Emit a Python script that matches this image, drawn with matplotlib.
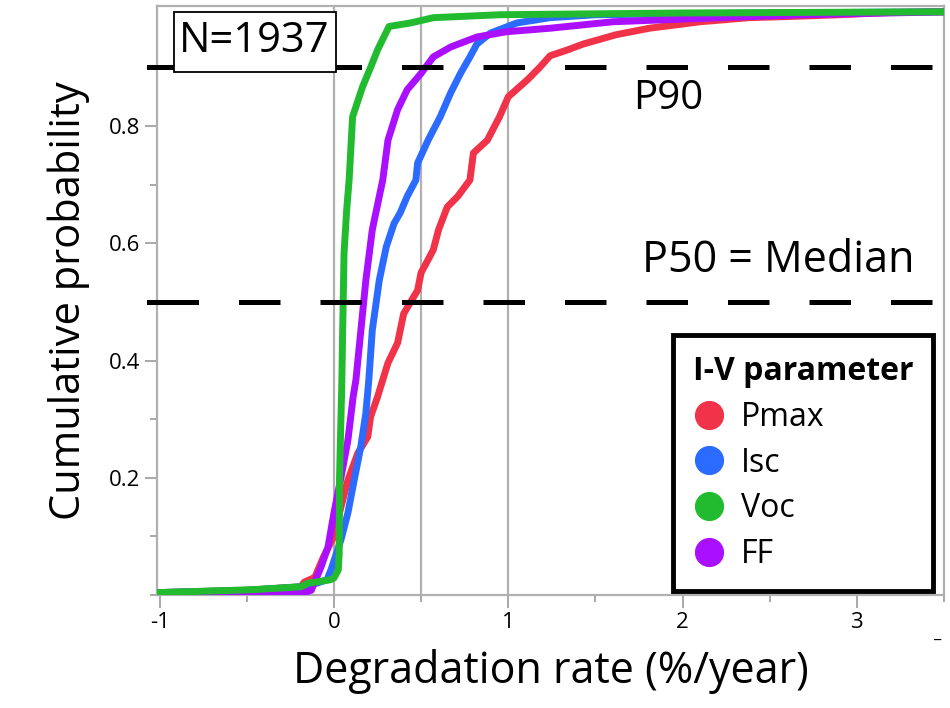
import matplotlib
matplotlib.use("Agg")
import matplotlib.pyplot as plt
from matplotlib.lines import Line2D
from matplotlib.patches import Rectangle
from matplotlib.ticker import FixedLocator

plt.rcParams['font.family'] = ['Open Sans', 'DejaVu Sans']

# cumulative curves (x = degradation rate, y = cumulative probability)
pmax_x = [-1.015, -0.5, -0.19, -0.17, -0.11, -0.06, 0.0, 0.04, 0.08, 0.137, 0.194, 0.21, 0.25, 0.31,
          0.365, 0.4, 0.42, 0.48, 0.5, 0.54, 0.57, 0.6, 0.65, 0.71, 0.78, 0.8, 0.88, 0.95, 1.0, 1.11,
          1.18, 1.24, 1.34, 1.43, 1.62, 1.81, 2.1, 2.38, 2.61, 2.9, 3.2, 3.5]
pmax_y = [0.004, 0.008, 0.014, 0.022, 0.03, 0.065, 0.1, 0.15, 0.196, 0.242, 0.27, 0.304, 0.338, 0.396,
          0.43, 0.48, 0.49, 0.52, 0.55, 0.572, 0.589, 0.623, 0.662, 0.68, 0.708, 0.754, 0.776, 0.816,
          0.85, 0.879, 0.9, 0.92, 0.93, 0.94, 0.956, 0.967, 0.978, 0.985, 0.987, 0.99, 0.994, 0.995]

isc_x = [-1.015, -0.5, -0.19, -0.1, -0.04, -0.017, 0.04, 0.08, 0.116, 0.154, 0.183, 0.2, 0.22, 0.26,
         0.3, 0.345, 0.38, 0.42, 0.47, 0.48, 0.54, 0.61, 0.67, 0.726, 0.78, 0.82, 0.9, 1.05, 1.24, 1.5,
         2.5, 3.5]
isc_y = [0.004, 0.008, 0.014, 0.02, 0.026, 0.043, 0.094, 0.14, 0.196, 0.253, 0.31, 0.367, 0.452, 0.537,
         0.594, 0.634, 0.652, 0.68, 0.708, 0.737, 0.776, 0.816, 0.857, 0.89, 0.918, 0.94, 0.959, 0.976,
         0.985, 0.99, 0.993, 0.995]

voc_x = [-1.015, -0.47, -0.19, -0.15, -0.02, 0.0, 0.025, 0.03, 0.032, 0.04, 0.045, 0.05, 0.058, 0.073,
         0.087, 0.107, 0.164, 0.21, 0.25, 0.316, 0.44, 0.57, 0.95, 2.0, 3.5]
voc_y = [0.004, 0.009, 0.014, 0.02, 0.026, 0.029, 0.043, 0.07, 0.2, 0.3, 0.36, 0.452, 0.584, 0.657,
         0.708, 0.816, 0.867, 0.9, 0.93, 0.97, 0.976, 0.985, 0.99, 0.993, 0.995]

ff_x = [-1.015, -0.5, -0.15, -0.13, -0.074, -0.034, 0.0, 0.04, 0.08, 0.11, 0.126, 0.164, 0.183, 0.22,
        0.26, 0.28, 0.31, 0.365, 0.42, 0.5, 0.57, 0.67, 0.82, 0.99, 1.24, 1.6, 2.3, 2.7, 3.5]
ff_y = [0.003, 0.004, 0.006, 0.008, 0.048, 0.082, 0.14, 0.2, 0.264, 0.338, 0.367, 0.48, 0.537, 0.623,
        0.68, 0.708, 0.776, 0.828, 0.862, 0.89, 0.918, 0.935, 0.952, 0.961, 0.967, 0.978, 0.986, 0.99,
        0.995]

names = ['Pmax', 'Isc', 'Voc', 'FF']
colors = {'Pmax': '#f03348', 'Isc': '#2b6bff', 'Voc': '#22bb30', 'FF': '#aa10ff'}
ref_lines_x = [0, 0.5, 1]
percentiles = [0.9, 0.5]

fig = plt.figure(figsize=(9.5, 7.08), dpi=100)
ax = fig.add_axes([0.1653, 0.1596, 0.8284, 0.832])

for xv in ref_lines_x:
    ax.axvline(xv, color='#b0b0b0', lw=1.6, zorder=1)

ax.plot(pmax_x, pmax_y, color=colors['Pmax'], lw=5, zorder=3)
ax.plot(isc_x, isc_y, color=colors['Isc'], lw=5, zorder=4)
ax.plot(ff_x, ff_y, color=colors['FF'], lw=5, zorder=5)
ax.plot(voc_x, voc_y, color=colors['Voc'], lw=5, zorder=6)

for p in percentiles:
    ax.plot([-1.015, 3.5], [p, p], color='black', lw=3.6, dashes=(8.3, 8.0), zorder=7)
    ax.plot([-1.06, -1.015], [p, p], color='black', lw=3.6, clip_on=False, zorder=7)

ax.set_xlim(-1.015, 3.5)
ax.set_ylim(0, 1.005)

ax.xaxis.set_major_locator(FixedLocator([-1, 0, 1, 2, 3]))
ax.xaxis.set_minor_locator(FixedLocator([-0.5, 0.5, 1.5, 2.5, 3.5]))
ax.yaxis.set_major_locator(FixedLocator([0.2, 0.4, 0.6, 0.8]))
ax.yaxis.set_minor_locator(FixedLocator([0, 0.1, 0.3, 0.5, 0.7, 0.9]))
ax.set_xticklabels(['-1', '0', '1', '2', '3'])
ax.set_yticklabels(['0.2', '0.4', '0.6', '0.8'])
ax.tick_params(which='major', length=9, width=1.4, color='#a8a8a8', labelsize=16, pad=3)
ax.tick_params(which='minor', length=5, width=1.4, color='#a8a8a8')

for s in ax.spines.values():
    s.set_color('#b0b0b0')
    s.set_linewidth(1.6)

ax.set_xlabel('Degradation rate (%/year)', fontsize=31, labelpad=12)
ax.set_ylabel('Cumulative probability', fontsize=30, labelpad=14)

# boxed sample size
ax.add_patch(Rectangle((-0.918, 0.8925), 0.929, 0.1025, fc='white', ec='black', lw=1.3, zorder=10))
ax.text(-0.89, 0.946, 'N=1937', fontsize=30, ha='left', va='center', zorder=11)
ax.text(1.92, 0.846, 'P90', fontsize=29, ha='center', va='center', zorder=8)
ax.text(2.55, 0.57, 'P50 = Median', fontsize=31, ha='center', va='center', zorder=8)

handles = [Line2D([], [], ls='none', marker='o', ms=20, color=colors[n]) for n in names]
leg = ax.legend(handles, names, title='I-V parameter', loc='upper left',
                bbox_to_anchor=(0.656, 0.441), borderaxespad=0, fontsize=23,
                title_fontproperties={'weight': 'bold', 'size': 23}, alignment='left',
                fancybox=False, framealpha=1, edgecolor='black', handletextpad=0.5,
                handlelength=1.0, labelspacing=0.4, borderpad=0.62)
leg.get_frame().set_linewidth(3.5)
leg.set_zorder(20)

fig.text(0.986, 0.098, '_', fontsize=12, ha='center')

fig.savefig('out.png', dpi=100)
